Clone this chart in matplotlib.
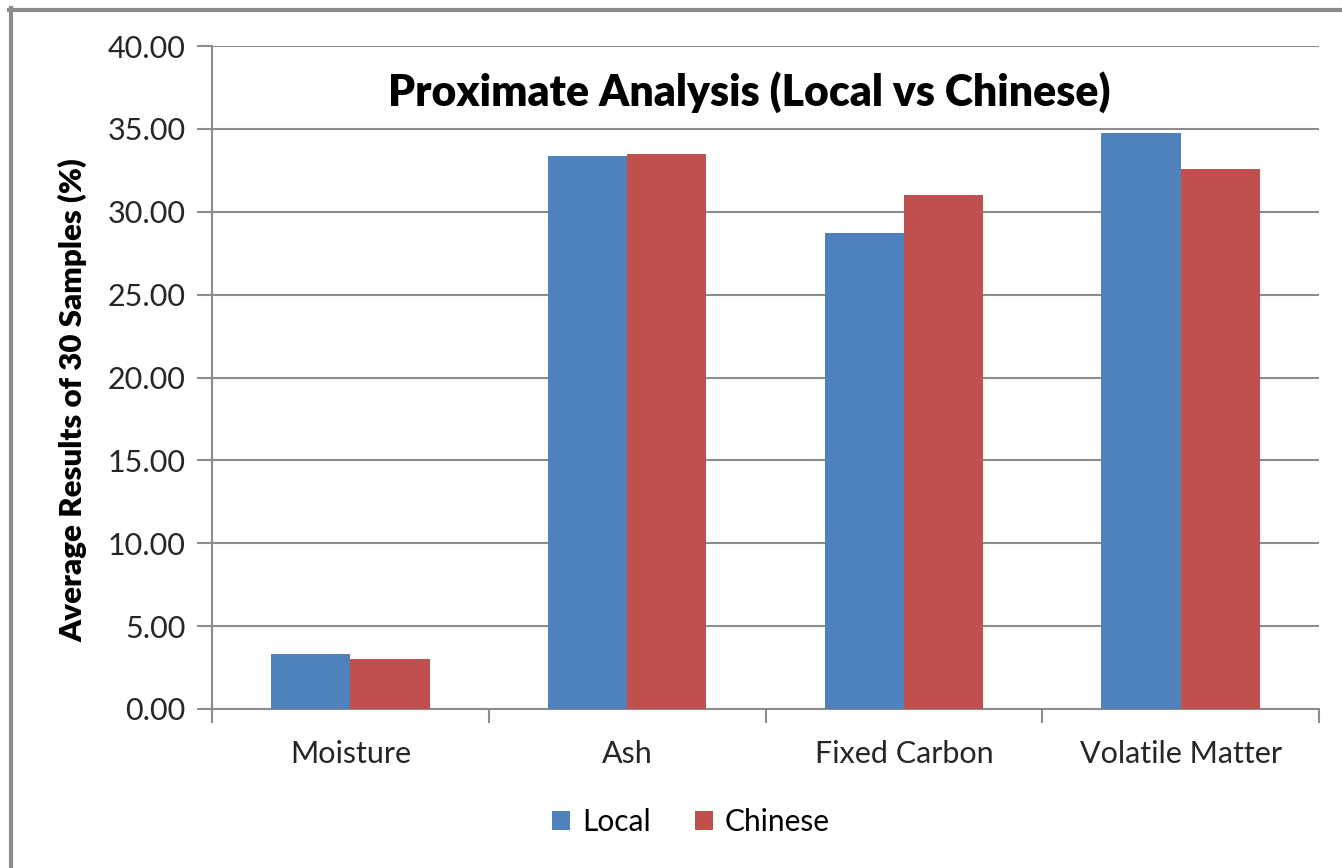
import matplotlib
matplotlib.use('Agg')
import matplotlib.pyplot as plt
from matplotlib.lines import Line2D
import numpy as np

# data
categories = ['Moisture', 'Ash', 'Fixed Carbon', 'Volatile Matter']
local = [3.32, 33.39, 28.70, 34.74]
chinese = [3.04, 33.47, 31.02, 32.60]
series_names = ['Local', 'Chinese']

blue = '#4F81BD'
red = '#C0504D'
grid_col = '#8C8C8C'

plt.rcParams['font.family'] = ['Lato', 'DejaVu Sans']

fig = plt.figure(figsize=(13.42, 8.68), dpi=100)
ax = fig.add_axes([212/1342, 159/868, 1107/1342, 663/868])

x = np.arange(len(categories))
w = 0.2866
ax.bar(x - w/2, local, w, color=blue, label=series_names[0], zorder=3)
ax.bar(x + w/2, chinese, w, color=red, label=series_names[1], zorder=3)

ax.set_xlim(-0.5, len(categories) - 0.5)
ax.set_ylim(0, 40)
ax.set_yticks(np.arange(0, 41, 5))
ax.set_yticklabels(['%.2f' % v for v in np.arange(0, 41, 5)], fontsize=22, color='#262626')
ax.set_xticks(x)
ax.set_xticklabels(categories, fontsize=22, color='#262626')
ax.set_xticks(np.arange(-0.5, len(categories)), minor=True)
ax.tick_params(axis='x', which='major', length=0, pad=22)
ax.tick_params(axis='x', which='minor', length=10, width=1.5, color=grid_col)
ax.tick_params(axis='y', length=11, width=1.5, color=grid_col, pad=8)

ax.grid(axis='y', color=grid_col, linewidth=1.5, zorder=0)
for s in ['top', 'right']:
    ax.spines[s].set_visible(False)
for s in ['left', 'bottom']:
    ax.spines[s].set_color(grid_col)
    ax.spines[s].set_linewidth(1.5)

ax.text(0.485, 0.93, 'Proximate Analysis (Local vs Chinese)', transform=ax.transAxes,
        ha='center', va='center', fontsize=30.8, fontweight='heavy', color='black')
ax.set_ylabel('Average Results of 30 Samples (%)', fontsize=22.5, fontweight='heavy')
ax.yaxis.set_label_coords(-0.113, 0.466)

fig.legend(loc='center', bbox_to_anchor=(691/1342, 1 - 822/868), ncol=2, frameon=False,
           fontsize=21.5, handlelength=0.6, handleheight=0.6, handletextpad=0.4, columnspacing=1.5)

# outer chart frame (only left and top edges visible in the crop)
fig.add_artist(Line2D([10.5/1342, 10.5/1342], [0, 1 - 8/868], transform=fig.transFigure,
                      color='#8C8C8C', linewidth=3))
fig.add_artist(Line2D([9/1342, 1], [1 - 9.5/868, 1 - 9.5/868], transform=fig.transFigure,
                      color='#8C8C8C', linewidth=3))

fig.savefig('out.png', dpi=100)
